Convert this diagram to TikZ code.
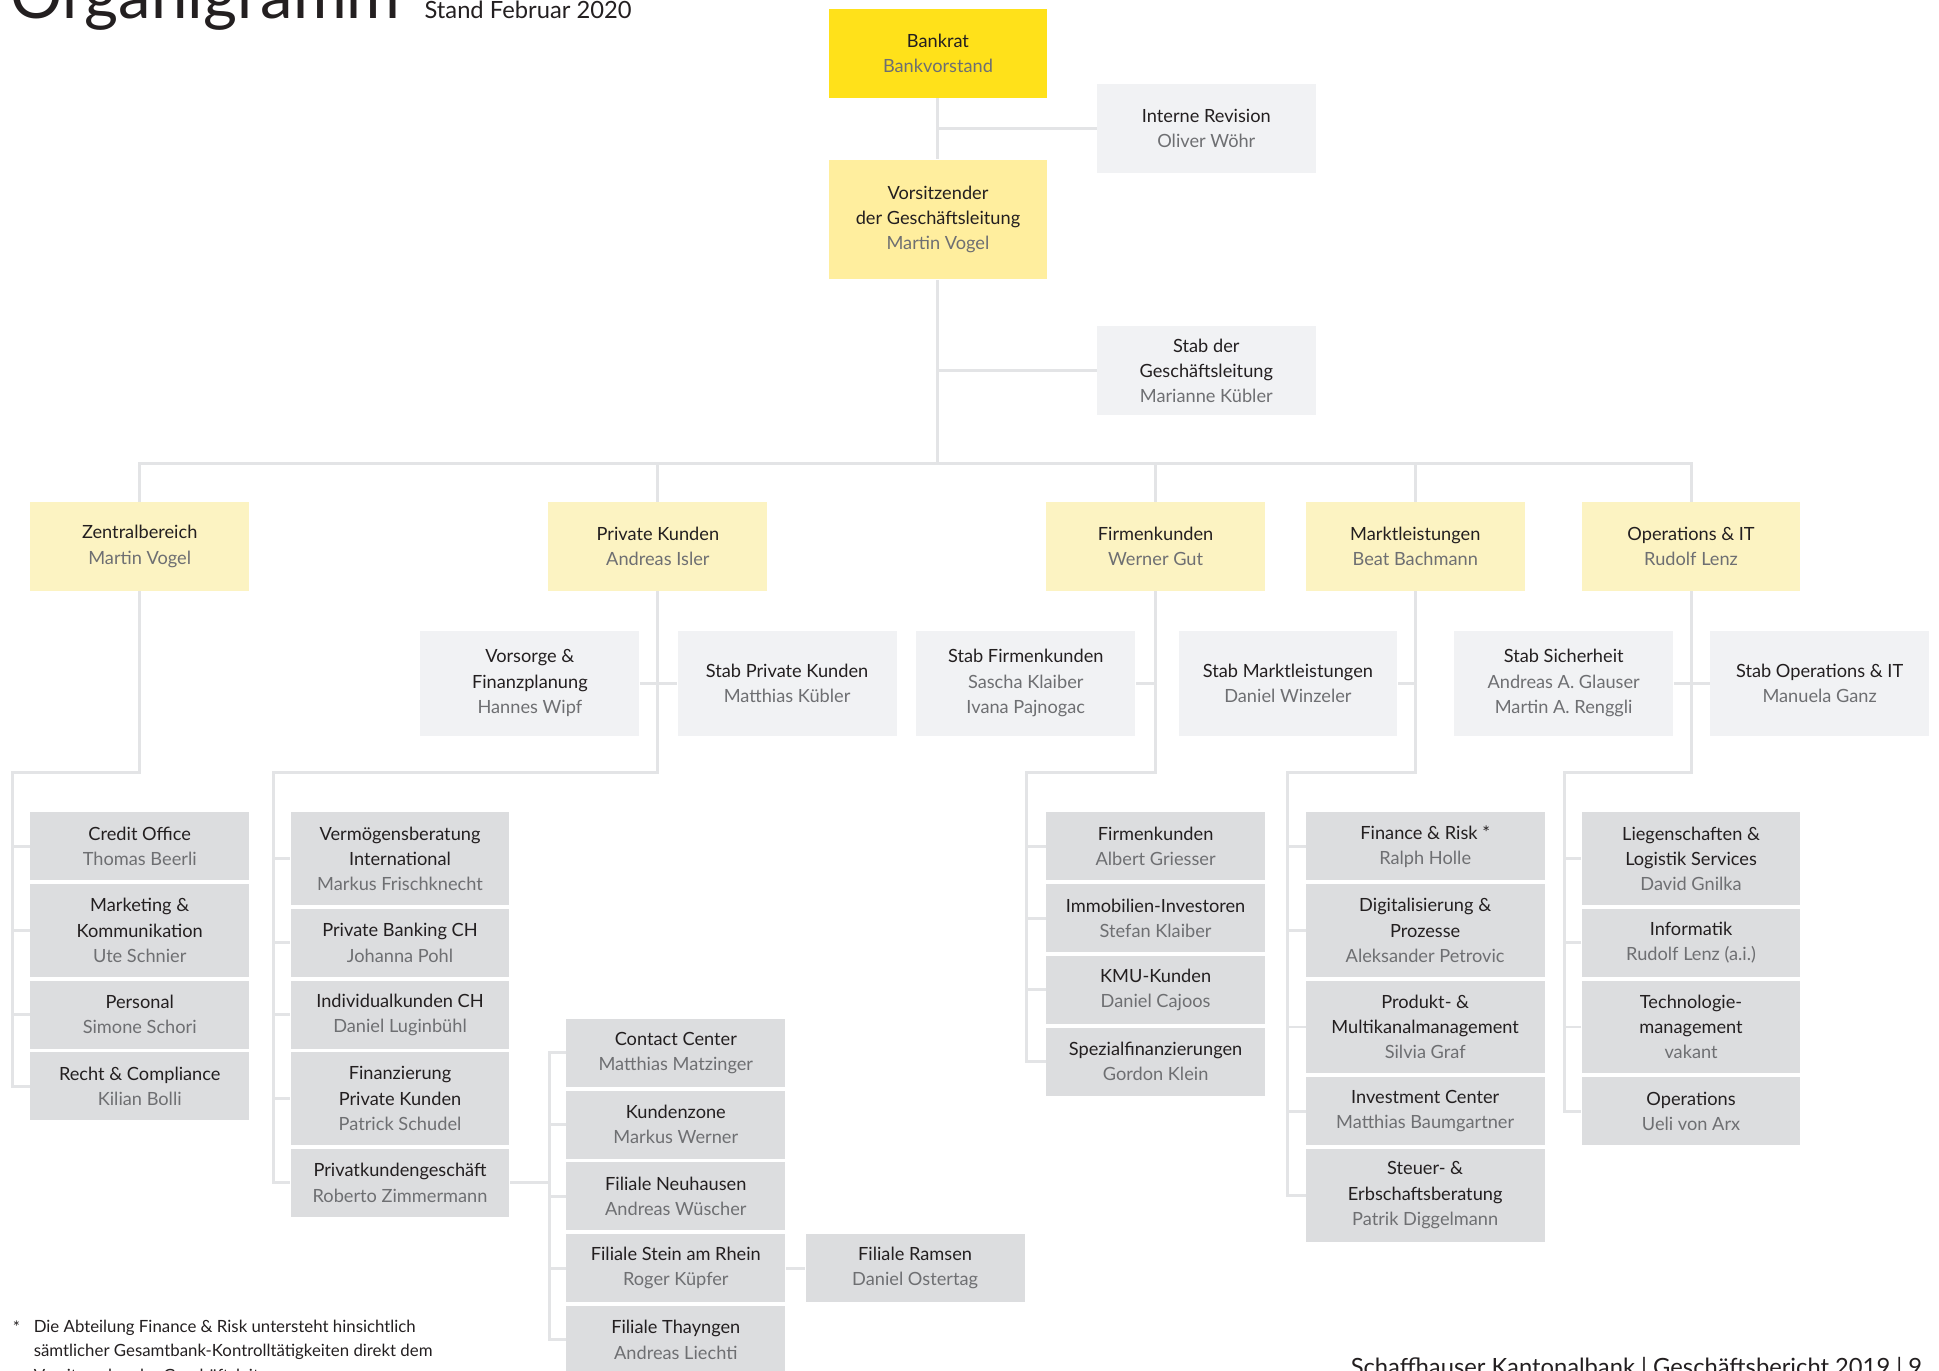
\documentclass[tikz,border=0pt]{standalone}
\usepackage{fontspec}
\setmainfont{Lato}
\usepackage{tikz}
\definecolor{ink}{HTML}{231F20}
\definecolor{namegray}{HTML}{6E6F72}
\definecolor{linegray}{HTML}{E3E4E6}
\definecolor{ratyellow}{HTML}{FFE11A}
\definecolor{chefyellow}{HTML}{FFEE9E}
\definecolor{bereichyellow}{HTML}{FCF3C2}
\definecolor{stabgray}{HTML}{F1F2F4}
\definecolor{unitgray}{HTML}{DCDDDF}
\newcommand{\boxfont}{\fontsize{9.2}{12.8}\selectfont}
\newcommand{\nm}{\color{namegray}}

\begin{document}
\begin{tikzpicture}[x=0.625pt,y=-0.625pt,
  link/.style={draw=linegray,line width=1.5pt},
  box/.style={inner sep=0pt,align=center,text=ink,font=\boxfont,minimum width=110.6pt},
  rat/.style={box,fill=ratyellow,minimum height=45pt},
  chef/.style={box,fill=chefyellow,minimum height=60.6pt},
  bereich/.style={box,fill=bereichyellow,minimum height=45pt},
  stab/.style={box,fill=stabgray,minimum height=53.1pt},
  unit/.style={box,fill=unitgray,minimum height=34.4pt},
  unitthree/.style={unit,minimum height=46.9pt}]
\useasboundingbox (0,0) rectangle (1568,1108);
\clip (0,0) rectangle (1568,1108);

\node[anchor=base west,inner sep=0pt,text=ink,font=\fontsize{33}{33}\selectfont] (titel) at (8,15) {Organigramm};
\node[anchor=base west,inner sep=0pt,text=ink,font=\fontsize{12}{12}\selectfont] (stand) at (343,15) {Stand Februar 2020};

\node[rat] (bankrat) at (758.5,43) {Bankrat\\\nm Bankvorstand};
\node[stab,minimum height=45pt] (revision) at (975.5,104) {Interne Revision\\\nm Oliver Wöhr};
\node[chef] (vorsitz) at (758.5,177.5) {Vorsitzender\\der Geschäftsleitung\\\nm Martin Vogel};
\node[stab,minimum height=45pt] (stabgl) at (975.5,300) {Stab der\\Geschäftsleitung\\\nm Marianne Kübler};

\node[bereich] (zentral) at (113,442) {Zentralbereich\\\nm Martin Vogel};
\node[bereich] (privat) at (532,442) {Private Kunden\\\nm Andreas Isler};
\node[bereich] (firmen) at (934.5,442) {Firmenkunden\\\nm Werner Gut};
\node[bereich] (markt) at (1144.5,442) {Marktleistungen\\\nm Beat Bachmann};
\node[bereich] (ops) at (1367.5,442) {Operations \& IT\\\nm Rudolf Lenz};

\node[stab] (vorsorge) at (428.5,552.5) {Vorsorge \&\\Finanzplanung\\\nm Hannes Wipf};
\node[stab] (stabpk) at (636.5,552.5) {Stab Private Kunden\\\nm Matthias Kübler};
\node[stab] (stabfk) at (829.5,552.5) {Stab Firmenkunden\\\nm Sascha Klaiber\\\nm Ivana Pajnogac};
\node[stab] (stabml) at (1041.5,552.5) {Stab Marktleistungen\\\nm Daniel Winzeler};
\node[stab] (stabsich) at (1264.5,552.5) {Stab Sicherheit\\\nm Andreas A. Glauser\\\nm Martin A. Renggli};
\node[stab] (stabops) at (1471.5,552.5) {Stab Operations \& IT\\\nm Manuela Ganz};

\node[unit] (credit) at (113,684.5) {Credit Office\\\nm Thomas Beerli};
\node[unitthree] (marketing) at (113,752.5) {Marketing \&\\Kommunikation\\\nm Ute Schnier};
\node[unit] (personal) at (113,820.5) {Personal\\\nm Simone Schori};
\node[unit] (recht) at (113,878.5) {Recht \& Compliance\\\nm Kilian Bolli};

\node[unitthree] (verm) at (323.5,694.5) {Vermögensberatung\\International\\\nm Markus Frischknecht};
\node[unit] (pbch) at (323.5,762.5) {Private Banking CH\\\nm Johanna Pohl};
\node[unit] (indiv) at (323.5,820.5) {Individualkunden CH\\\nm Daniel Luginbühl};
\node[unitthree] (finanz) at (323.5,888.5) {Finanzierung\\Private Kunden\\\nm Patrick Schudel};
\node[unit] (pkg) at (323.5,956.5) {Privatkundengeschäft\\\nm Roberto Zimmermann};

\node[unit] (contact) at (546.5,851.5) {Contact Center\\\nm Matthias Matzinger};
\node[unit] (kundenzone) at (546.5,909.5) {Kundenzone\\\nm Markus Werner};
\node[unit] (neuhausen) at (546.5,967.5) {Filiale Neuhausen\\\nm Andreas Wüscher};
\node[unit] (stein) at (546.5,1025.5) {Filiale Stein am Rhein\\\nm Roger Küpfer};
\node[unit] (thayngen) at (546.5,1083.5) {Filiale Thayngen\\\nm Andreas Liechti};
\node[unit] (ramsen) at (740,1025.5) {Filiale Ramsen\\\nm Daniel Ostertag};

\node[unit] (fkunden) at (934.5,684.5) {Firmenkunden\\\nm Albert Griesser};
\node[unit] (immo) at (934.5,742.5) {Immobilien-Investoren\\\nm Stefan Klaiber};
\node[unit] (kmu) at (934.5,800.5) {KMU-Kunden\\\nm Daniel Cajoos};
\node[unit] (spezial) at (934.5,858.5) {Spezialfinanzierungen\\\nm Gordon Klein};

\node[unit,minimum width=120.6pt] (finance) at (1152.5,684.5) {Finance \& Risk *\\\nm Ralph Holle};
\node[unitthree,minimum width=120.6pt] (digital) at (1152.5,752.5) {Digitalisierung \&\\Prozesse\\\nm Aleksander Petrovic};
\node[unitthree,minimum width=120.6pt] (produkt) at (1152.5,830.5) {Produkt- \&\\Multikanalmanagement\\\nm Silvia Graf};
\node[unit,minimum width=120.6pt] (invest) at (1152.5,898.5) {Investment Center\\\nm Matthias Baumgartner};
\node[unitthree,minimum width=120.6pt] (steuer) at (1152.5,966.5) {Steuer- \&\\Erbschaftsberatung\\\nm Patrik Diggelmann};

\node[unitthree] (liegen) at (1367.5,694.5) {Liegenschaften \&\\Logistik Services\\\nm David Gnilka};
\node[unit] (informatik) at (1367.5,762.5) {Informatik\\\nm Rudolf Lenz (a.i.)};
\node[unitthree] (techno) at (1367.5,830.5) {Technologie-\\management\\\nm vakant};
\node[unit] (operations) at (1367.5,898.5) {Operations\\\nm Ueli von Arx};

\draw[link] (bankrat) -- (vorsitz);
\draw[link] (revision.west) -- (revision.west -| bankrat.south);
\coordinate (bus) at (758.5,375);
\draw[link] (vorsitz) -- (bus);
\draw[link] (stabgl.west) -- (stabgl.west -| vorsitz.south);
\draw[link] (zentral.north) |- (bus) -| (ops.north);
\foreach \n in {privat,firmen,markt}
  \draw[link] (\n.north) -- (\n.north |- bus);

\coordinate (zk) at (10,625);
\draw[link] (zentral.south) |- (zk) |- (recht.west);
\foreach \n in {credit,marketing,personal}
  \draw[link] (\n.west) -- (\n.west -| zk);

\draw[link] (vorsorge.east) -- (stabpk.west);
\coordinate (pk) at (221,625);
\draw[link] (privat.south) |- (pk) |- (pkg.west);
\foreach \n in {verm,pbch,indiv,finanz}
  \draw[link] (\n.west) -- (\n.west -| pk);
\coordinate (pkb) at (444,956.5);
\draw[link] (pkg.east) -- (pkb);
\draw[link] (contact.west) -| (pkb) |- (thayngen.west);
\foreach \n in {kundenzone,neuhausen,stein}
  \draw[link] (\n.west) -- (\n.west -| pkb);
\draw[link] (stein.east) -- (ramsen.west);

\draw[link] (stabfk.east) -- (stabfk.east -| firmen.south);
\coordinate (fk) at (830,625);
\draw[link] (firmen.south) |- (fk) |- (spezial.west);
\foreach \n in {fkunden,immo,kmu}
  \draw[link] (\n.west) -- (\n.west -| fk);

\draw[link] (stabml.east) -- (stabml.east -| markt.south);
\coordinate (mk) at (1041,625);
\draw[link] (markt.south) |- (mk) |- (steuer.west);
\foreach \n in {finance,digital,produkt,invest}
  \draw[link] (\n.west) -- (\n.west -| mk);

\draw[link] (stabsich.east) -- (stabops.west);
\coordinate (ok) at (1265,625);
\draw[link] (ops.south) |- (ok) |- (operations.west);
\foreach \n in {liegen,informatik,techno}
  \draw[link] (\n.west) -- (\n.west -| ok);

\node[anchor=base west,inner sep=0pt,text=ink,font=\fontsize{8.5}{12.5}\selectfont] (stern) at (10,1078) {*};
\node[anchor=north west,inner sep=0pt,align=left,text=ink,font=\fontsize{8.5}{12.5}\selectfont] (fussnote) at (27,1067) {Die Abteilung Finance \& Risk untersteht hinsichtlich\\sämtlicher Gesamtbank-Kontrolltätigkeiten direkt dem\\Vorsitzenden der Geschäftsleitung.};
\node[anchor=base west,inner sep=0pt,text=ink,font=\fontsize{12}{12}\selectfont] (fuss) at (1092,1112) {Schaffhauser Kantonalbank | Geschäftsbericht 2019 | 9};
\end{tikzpicture}
\end{document}
